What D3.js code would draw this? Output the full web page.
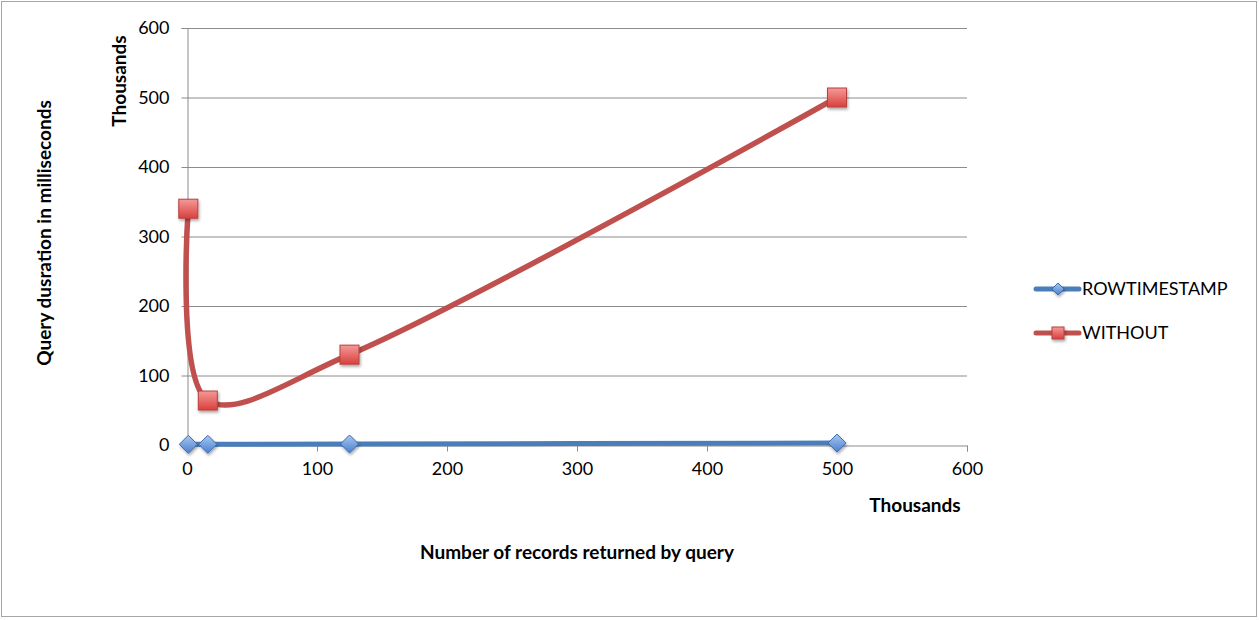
<!DOCTYPE html>
<html><head><meta charset="utf-8">
<script src="https://cdn.jsdelivr.net/npm/d3@7"></script>
<style>
body{margin:0;background:#fff;}
text{font-family:Lato,"Open Sans",sans-serif;}
</style></head>
<body><svg id="c" width="1259" height="620"></svg>
<script>
const xRecords = [1, 16, 125, 500];           // thousands
const rowTimestamp = [1, 1, 1.5, 2.8];       // thousands of ms
const withoutIdx = [340, 64, 130, 500];      // thousands of ms
const seriesNames = ["ROWTIMESTAMP", "WITHOUT"];
const xTicks = [0, 100, 200, 300, 400, 500, 600];
const yTicks = [0, 100, 200, 300, 400, 500, 600];

const svg = d3.select("#c");
const W = 1259, H = 620;
svg.append("rect").attr("x",1.5).attr("y",1.5).attr("width",W-4).attr("height",H-5)
  .attr("fill","#fff").attr("stroke","#a6a6a6").attr("stroke-width",1);

const x = d3.scaleLinear().domain([0,600]).range([187,967]);
const y = d3.scaleLinear().domain([0,600]).range([445,28]);

const defs = svg.append("defs");
const gr = defs.append("linearGradient").attr("id","gRed").attr("x1",0).attr("y1",0).attr("x2",0).attr("y2",1);
gr.append("stop").attr("offset","0%").attr("stop-color","#f59a98");
gr.append("stop").attr("offset","100%").attr("stop-color","#d8403d");
const gb = defs.append("linearGradient").attr("id","gBlue").attr("x1",0).attr("y1",0).attr("x2",0).attr("y2",1);
gb.append("stop").attr("offset","0%").attr("stop-color","#a9c8f0");
gb.append("stop").attr("offset","100%").attr("stop-color","#4a7fcf");
const f = defs.append("filter").attr("id","sh").attr("x","-50%").attr("y","-50%").attr("width","200%").attr("height","200%");
f.append("feDropShadow").attr("dx",1).attr("dy",2).attr("stdDeviation",1.5).attr("flood-color","#000").attr("flood-opacity",0.35);

// gridlines
svg.append("g").selectAll("line").data(yTicks.filter(d=>d>0)).join("line")
  .attr("x1",x(0)).attr("x2",x(600)).attr("y1",d=>y(d)+0.5).attr("y2",d=>y(d)+0.5)
  .attr("stroke","#8c8c8c").attr("stroke-width",1);

// axes
const yAxis = d3.axisLeft(y).tickValues(yTicks).tickSize(6).tickPadding(12).tickFormat(d3.format("d"));
const gy = svg.append("g").attr("transform",`translate(${x(0)+0.5},0)`).call(yAxis);
const xAxis = d3.axisBottom(x).tickValues(xTicks).tickSize(6).tickPadding(11).tickFormat(d3.format("d"));
const gx = svg.append("g").attr("transform",`translate(0,${y(0)+0.5})`).call(xAxis);
[gx,gy].forEach(g=>{
  g.select(".domain").attr("stroke","#8c8c8c");
  g.selectAll(".tick line").attr("stroke","#8c8c8c");
  g.selectAll(".tick text").attr("font-size",18).attr("fill","#000").attr("font-family","Lato,'Open Sans',sans-serif");
});

// titles
svg.append("text").attr("transform","translate(51,233) rotate(-90)").attr("text-anchor","middle")
  .attr("font-size",19).attr("font-weight","bold").text("Query dusration in milliseconds");
svg.append("text").attr("transform","translate(126,81) rotate(-90)").attr("text-anchor","middle")
  .attr("font-size",19).attr("font-weight","bold").text("Thousands");
svg.append("text").attr("x",915).attr("y",512).attr("text-anchor","middle")
  .attr("font-size",19).attr("font-weight","bold").text("Thousands");
svg.append("text").attr("x",577).attr("y",559).attr("text-anchor","middle")
  .attr("font-size",19).attr("font-weight","bold").text("Number of records returned by query");

const line = d3.line().x(d=>x(d[0])).y(d=>y(d[1])).curve(d3.curveCatmullRom.alpha(0.5));
const blueData = xRecords.map((v,i)=>[v,rowTimestamp[i]]);
const redData = xRecords.map((v,i)=>[v,withoutIdx[i]]);

function diamond(g,cx,cy,s){
  g.append("path").attr("d",`M${cx},${cy-s}L${cx+s},${cy}L${cx},${cy+s}L${cx-s},${cy}Z`)
   .attr("fill","url(#gBlue)").attr("stroke","#3d6db5").attr("stroke-width",1).attr("filter","url(#sh)");
}
function square(g,cx,cy,s){
  g.append("rect").attr("x",cx-s).attr("y",cy-s).attr("width",2*s).attr("height",2*s)
   .attr("fill","url(#gRed)").attr("stroke","#b8403d").attr("stroke-width",1).attr("filter","url(#sh)");
}

svg.append("path").datum(blueData).attr("d",line).attr("fill","none")
  .attr("stroke","#4a7ebb").attr("stroke-width",5).attr("stroke-linecap","round");
svg.append("path").datum(redData).attr("d",line).attr("fill","none")
  .attr("stroke","#c0504d").attr("stroke-width",5.5).attr("stroke-linecap","round");
const gm = svg.append("g");
blueData.forEach(d=>diamond(gm,x(d[0]),y(d[1]),9));
redData.forEach(d=>square(gm,x(d[0]),y(d[1]),9.5));

// legend
const leg = svg.append("g");
const colors = ["#4a7ebb","#c0504d"];
seriesNames.forEach((n,i)=>{
  const ly = 289 + i*44;
  leg.append("line").attr("x1",1036).attr("x2",1079).attr("y1",ly).attr("y2",ly)
    .attr("stroke",colors[i]).attr("stroke-width",5).attr("stroke-linecap","round");
  if(i===0) diamond(leg,1058,ly,6); else square(leg,1058,ly,6);
  leg.append("text").attr("x",1082).attr("y",ly+6).attr("font-size",18).text(n);
});
</script></body></html>
